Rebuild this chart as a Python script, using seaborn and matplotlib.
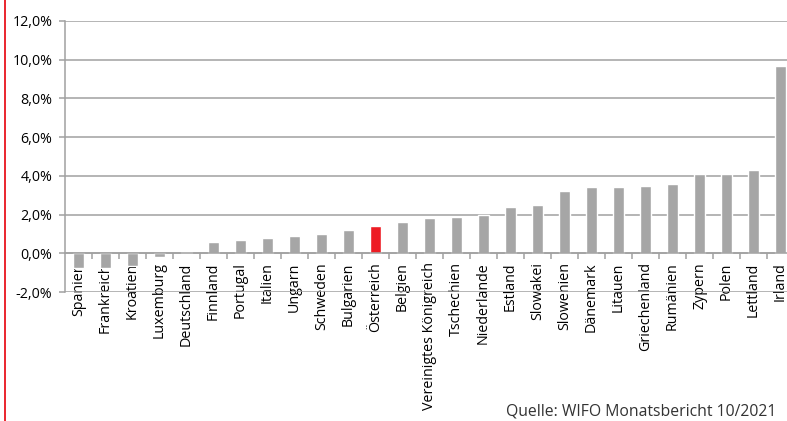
import matplotlib
matplotlib.use("Agg")
import matplotlib.pyplot as plt
import matplotlib.ticker as mticker
from matplotlib.lines import Line2D
import seaborn as sns
import pandas as pd

laender = ["Spanien", "Frankreich", "Kroatien", "Luxemburg", "Deutschland",
           "Finnland", "Portugal", "Italien", "Ungarn", "Schweden", "Bulgarien",
           "Österreich", "Belgien", "Vereinigtes Königreich", "Tschechien",
           "Niederlande", "Estland", "Slowakei", "Slowenien", "Dänemark",
           "Litauen", "Griechenland", "Rumänien", "Zypern", "Polen",
           "Lettland", "Irland"]
werte = [-0.75, -0.75, -0.65, -0.2, 0.05, 0.6, 0.7, 0.8, 0.9, 1.0, 1.2,
         1.4, 1.6, 1.8, 1.9, 2.0, 2.4, 2.5, 3.2, 3.4, 3.4, 3.5, 3.6,
         4.1, 4.1, 4.3, 9.7]
y_ticks = [-2, 0, 2, 4, 6, 8, 10, 12]
quelle = "Quelle: WIFO Monatsbericht 10/2021"

df = pd.DataFrame({"land": laender, "wert": werte})

sns.set_theme(style="white")
plt.rcParams["font.family"] = ["Open Sans", "DejaVu Sans"]

grau = "#a6a6a6"
farben = {l: ("#ed1c24" if l == "Österreich" else grau) for l in laender}

fig = plt.figure(figsize=(7.87, 4.21), dpi=100)
W, H = 787, 421
# axes runs past the right edge of the picture, like in the original
ax = fig.add_axes([65 / W, 1 - 292 / H, 729 / W, (292 - 21) / H])

sns.barplot(data=df, x="land", y="wert", hue="land", palette=farben,
            width=0.42, legend=False, ax=ax, saturation=1)

ax.set_ylim(-2, 12)
ax.set_xlim(-0.5, len(laender) - 0.5)
ax.set_yticks(y_ticks)
ax.yaxis.set_major_formatter(mticker.FuncFormatter(
    lambda v, p: f"{v:.1f}%".replace(".", ",")))
ax.set_xlabel("")
ax.set_ylabel("")

ax.grid(axis="y", color="#a0a0a0", linewidth=1.1)
ax.set_axisbelow(True)
for s in ["top", "right"]:
    ax.spines[s].set_visible(False)
ax.spines["left"].set_color("#a0a0a0")
ax.spines["left"].set_linewidth(1.1)
ax.spines["bottom"].set_position(("data", 0))
ax.spines["bottom"].set_color("#a0a0a0")
ax.spines["bottom"].set_linewidth(1.1)
ax.spines["bottom"].set_zorder(3)

ax.set_xticks(range(len(laender)))
ax.set_xticklabels(laender, rotation=90, fontsize=10.3, color="#000000")
ax.set_xticks([i - 0.5 for i in range(1, len(laender) + 1)], minor=True)
ax.tick_params(axis="x", which="major", length=0, pad=6.5)
ax.tick_params(axis="x", which="minor", length=4, width=1.1,
               color="#a0a0a0", direction="out", bottom=True)
ax.tick_params(axis="y", length=4, width=1.1, color="#a0a0a0",
               labelsize=10.3, pad=5, left=True, labelcolor="#000000")

fig.text(776 / W, 1 - 416 / H, quelle, ha="right", va="baseline",
         fontsize=11.3, color="#333333")

fig.add_artist(Line2D([4.5 / W, 4.5 / W], [0, 1], color="#e8141c",
                      linewidth=1.3, transform=fig.transFigure))

fig.savefig("out.png", dpi=100)
